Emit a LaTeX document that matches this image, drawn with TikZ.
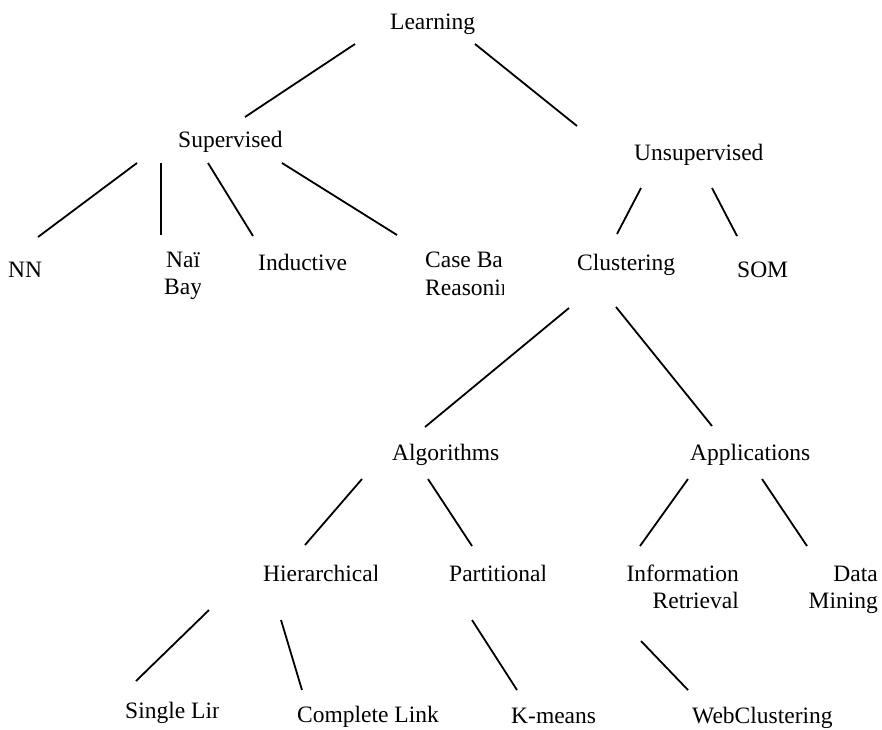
\documentclass[tikz,border=0pt]{standalone}
\usepackage{fontspec}
\setmainfont{Liberation Serif}
\begin{document}
\begin{tikzpicture}[x=1pt,y=-1pt,
  lbl/.style={inner sep=0pt, anchor=base west, font=\fontsize{23.5}{27}\selectfont},
  lblr/.style={lbl, anchor=base east},
  edge/.style={line width=1.8pt}]
\useasboundingbox (0,0) rectangle (882,729);
\fill[white] (0,0) rectangle (882,729);

% ---- labels ----
\node[lbl] (learning) at (390,29) {Learning};
\node[lbl] (sup) at (178,147) {Supervised};
\node[lbl] (unsup) at (634,160) {Unsupervised};
\node[lbl] (nn) at (8,277) {NN};
\begin{scope}
  \clip (150,240) rectangle (200.5,310);
  \node[lbl] (naive) at (166,267) {Naï};
  \node[lbl] (bayes) at (164,294) {Bay};
\end{scope}
\node[lbl] (inductive) at (258,270) {Inductive};
\begin{scope}
  \clip (410,240) rectangle (503.5,310);
  \node[lbl] (casebased) at (425,267) {Case Ba};
  \node[lbl] (reasoning) at (425,295) {Reasonin};
\end{scope}
\node[lbl] (clustering) at (577,270) {Clustering};
\node[lbl] (som) at (737,277) {SOM};
\node[lbl] (algorithms) at (392,460) {Algorithms};
\node[lbl] (applications) at (690,460) {Applications};
\begin{scope}
  \clip (250,555) rectangle (376.5,600);
  \node[lbl] (hier) at (263,581) {Hierarchical};
\end{scope}
\begin{scope}
  \clip (440,555) rectangle (544.5,600);
  \node[lbl] (part) at (449,581) {Partitional};
\end{scope}
\node[lblr] (information) at (739,581) {Information};
\node[lblr] (retrieval) at (739,608) {Retrieval};
\node[lblr] (data) at (878,581) {Data};
\node[lblr] (mining) at (878,608) {Mining};
\begin{scope}
  \clip (110,695) rectangle (218,729);
  \node[lbl] (single) at (125,718) {Single Lin};
\end{scope}
\node[lbl] (complete) at (297,722) {Complete Link};
\node[lbl] (kmeans) at (511,723) {K-means};
\node[lbl] (webclust) at (692,723) {WebClustering};

% ---- connector end points ----
\coordinate (l-a) at (355,44);  \coordinate (l-b) at (245,117);
\coordinate (r-a) at (475,44);  \coordinate (r-b) at (577,126);
\coordinate (s1-a) at (137,163); \coordinate (s1-b) at (38,237);
\coordinate (s2-a) at (161,163); \coordinate (s2-b) at (161,235);
\coordinate (s3-a) at (208,163); \coordinate (s3-b) at (253,236);
\coordinate (s4-a) at (282,163); \coordinate (s4-b) at (397,235);
\coordinate (u1-a) at (641,188); \coordinate (u1-b) at (617,234);
\coordinate (u2-a) at (712,188); \coordinate (u2-b) at (737,236);
\coordinate (c1-a) at (569,308); \coordinate (c1-b) at (425,427);
\coordinate (c2-a) at (616,307); \coordinate (c2-b) at (712,426);
\coordinate (a1-a) at (362,479); \coordinate (a1-b) at (305,545);
\coordinate (a2-a) at (428,479); \coordinate (a2-b) at (472,546);
\coordinate (p1-a) at (688,479); \coordinate (p1-b) at (640,546);
\coordinate (p2-a) at (762,479); \coordinate (p2-b) at (807,546);
\coordinate (h1-a) at (209,610); \coordinate (h1-b) at (136,681);
\coordinate (h2-a) at (281,620); \coordinate (h2-b) at (302,690);
\coordinate (k-a) at (472,620);  \coordinate (k-b) at (517,690);
\coordinate (w-a) at (641,641);  \coordinate (w-b) at (688,690);

% ---- connectors ----
\foreach \e in {l,r,s1,s2,s3,s4,u1,u2,c1,c2,a1,a2,p1,p2,h1,h2,k,w}
  \draw[edge] (\e-a) -- (\e-b);
\end{tikzpicture}
\end{document}
